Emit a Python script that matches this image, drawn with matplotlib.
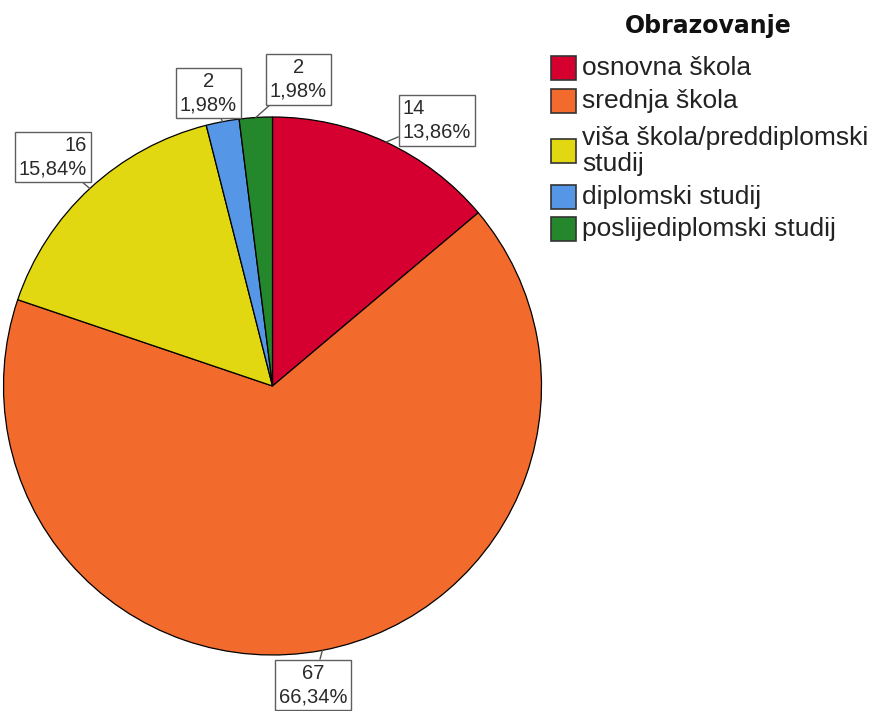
import matplotlib
matplotlib.use("Agg")
import numpy as np
import matplotlib.pyplot as plt
from matplotlib.patches import Rectangle

# education level counts
categories = ["osnovna škola", "srednja škola", "viša škola/preddiplomski\nstudij",
              "diplomski studij", "poslijediplomski studij"]
counts = [14, 67, 16, 2, 2]
colors = ["#d5002f", "#f26a2c", "#e2d811", "#5596e6", "#24872b"]
title = "Obrazovanje"

W, H = 874, 711


def Y(py):
    # work in pixel units, measured from the top
    return H - py


fig = plt.figure(figsize=(W / 100, H / 100), dpi=100)
ax = fig.add_axes([0, 0, 1, 1])

cx, cy, r = 272.5, Y(386), 269
wedges, _ = ax.pie(counts, colors=colors, startangle=90, counterclock=False,
                   center=(cx, cy), radius=r,
                   wedgeprops=dict(edgecolor="black", linewidth=0.9))
ax.set_xlim(0, W)
ax.set_ylim(0, H)
ax.set_aspect("equal")
ax.axis("off")

# value boxes: (box center, text alignment)
box_pos = [((437, Y(120.5)), "left"),
           ((313, Y(685)), "center"),
           ((53, Y(157)), "right"),
           ((208.5, Y(93)), "center"),
           ((298.5, Y(79.5)), "center")]

total = sum(counts)
for w, n, (pos, align) in zip(wedges, counts, box_pos):
    mid = np.deg2rad((w.theta1 + w.theta2) / 2)
    edge = (cx + r * np.cos(mid), cy + r * np.sin(mid))
    pct = "{:.2f}%".format(100.0 * n / total).replace(".", ",")
    ax.annotate("{}\n{}".format(n, pct), xy=edge, xytext=pos,
                ha="center", va="center", multialignment=align,
                fontsize=14.5, family="Liberation Sans", linespacing=1.3,
                color="#2a2a2a",
                bbox=dict(boxstyle="square,pad=0.2", fc="white", ec="#5e5e5e", lw=1),
                arrowprops=dict(arrowstyle="-", color="#555555", lw=1,
                                shrinkA=0, shrinkB=0))

# legend
ax.text(708, Y(26), title, ha="center", va="center", fontsize=17,
        fontweight="bold", family="DejaVu Sans", color="#111111")
row_y = [68, 101, 151, 197, 229]
for lab, col, py in zip(categories, colors, row_y):
    ax.add_patch(Rectangle((551, Y(py) - 12), 25, 24, fc=col, ec="#333333", lw=1.2))
    ax.text(582, Y(py), lab, ha="left", va="center", fontsize=19,
            family="Liberation Sans", linespacing=1.15, color="#222222")

fig.savefig("out.png", dpi=100)
